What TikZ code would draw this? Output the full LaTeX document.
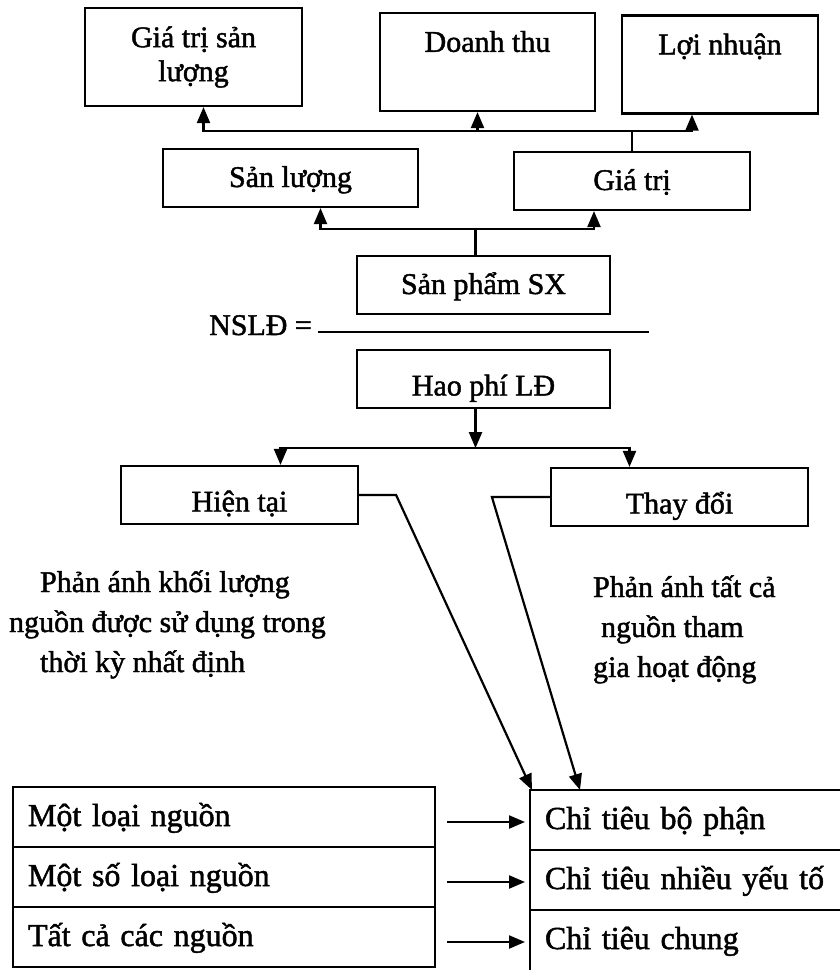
\documentclass[tikz,border=0pt]{standalone}
\usepackage{fontspec}
\setmainfont{Liberation Serif}[FakeBold=1.5]
\usetikzlibrary{arrows.meta}
\usetikzlibrary{positioning}

\begin{document}
\begin{tikzpicture}[x=1pt,y=-1pt,line width=2.2pt,>={Triangle[length=16pt,width=13pt]},
  font=\fontsize{30}{34}\selectfont,
  box/.style={draw, minimum height=58pt, inner sep=0pt, text height=25pt, text depth=7pt},
  lowbox/.style={box, text height=33pt, text depth=0pt},
  topbox/.style={draw, minimum height=98pt, inner sep=0pt, align=center},
  row/.style={draw, outer sep=0pt, minimum height=60pt, inner xsep=15pt, inner ysep=0pt,
    align=left, text height=25pt, text depth=7pt, font=\fontsize{32}{38}\selectfont},
  cell/.style={row, draw=none},
  note/.style={anchor=base west, align=left, inner sep=0pt, font=\fontsize{30}{40}\selectfont}]
\useasboundingbox (0,0) rectangle (840,970);
% top row
\node[topbox, minimum width=217pt] (gtsl) at (193.5,57) {Giá trị sản\\lượng};
\node[topbox, minimum width=215pt] (doanhthu) at (487.5,62) {\strut Doanh thu\\\strut};
\node[topbox, minimum width=196pt] (loinhuan) at (720,64.5) {\strut Lợi nhuận\\\strut};
\node[box, minimum width=255pt] (sanluong) at (290.5,178) {Sản lượng};
\node[box, minimum width=236pt] (giatri) at (632,181) {Giá trị};
\coordinate (hubtop) at ([yshift=20pt]giatri.north);
\draw (giatri.north) -- (hubtop);
\draw[->] (hubtop) -| ([xshift=10pt]gtsl.south);
\draw[->] (hubtop) -| ([xshift=-28pt]loinhuan.south);
\draw[->] ([xshift=-10pt]doanhthu.south |- hubtop) -- ([xshift=-10pt]doanhthu.south);
% NSLD
\node[box, minimum width=253pt] (spsx) at (483.5,285) {Sản phẩm SX};
\draw ([xshift=-8pt]spsx.north) -- ++(0,-26) coordinate (hubmid);
\draw[->] (hubmid) -| ([xshift=30pt]sanluong.south);
\draw[->] (hubmid) -| ([xshift=-38pt]giatri.south);
\node[anchor=base east, inner sep=0pt] (nsld) at (313,335) {NSLĐ =};
\coordinate (fracend) at (649,332);
\draw ([xshift=5pt,yshift=3pt]nsld.base east) -- (fracend);
\node[lowbox, minimum width=253pt] (haophi) at (483.5,379) {Hao phí LĐ};
\draw[->] ([xshift=-8pt]haophi.south) -- ++(0,39) coordinate (hublow);
\node[lowbox, minimum width=237pt] (hientai) at (239.5,495) {Hiện tại};
\node[lowbox, minimum width=257pt] (thaydoi) at (679.5,497) {Thay đổi};
\draw[->] (hublow) -| ([xshift=41pt]hientai.north);
\draw[->] (hublow) -| ([xshift=-50pt]thaydoi.north);
% notes (base = last line)
\node[note] (leftnote) at (8,672) {\hspace*{31pt}Phản ánh khối lượng\\nguồn được sử dụng trong\\\hspace*{31pt}thời kỳ nhất định};
\node[note] (rightnote) at (592,677) {Phản ánh tất cả\\\hspace*{8pt}nguồn tham\\gia hoạt động};
% tables
\node[row, text width=392pt] (r1) at (224,817) {Một loại nguồn};
\node[row, text width=392pt, below=0pt of r1] (r2) {Một số loại nguồn};
\node[row, text width=392pt, below=0pt of r2] (r3) {Tất cả các nguồn};
\node[cell, text width=280pt] (c1) at (685,820) {Chỉ tiêu bộ phận};
\node[cell, text width=280pt, below=0pt of c1] (c2) {Chỉ tiêu nhiều yếu tố};
\node[cell, text width=280pt, below=0pt of c2] (c3) {Chỉ tiêu chung};
\draw (c1.north east) -- (c1.north west) -- (c3.south west);
\draw (c1.south west) -- (c1.south east) (c2.south west) -- (c2.south east);
\foreach \i in {1,2,3}
  \draw[->] ([xshift=12pt,yshift=-5pt]r\i.east) -- ([xshift=-5pt,yshift=-5pt]r\i.east -| c\i.west);
\draw[->] (hientai.east) -- ++(37,0) -- ([xshift=2pt]c1.north west);
\draw[->] (thaydoi.west) -- ++(-58,0) -- ([xshift=50pt]c1.north west);
\end{tikzpicture}
\end{document}
